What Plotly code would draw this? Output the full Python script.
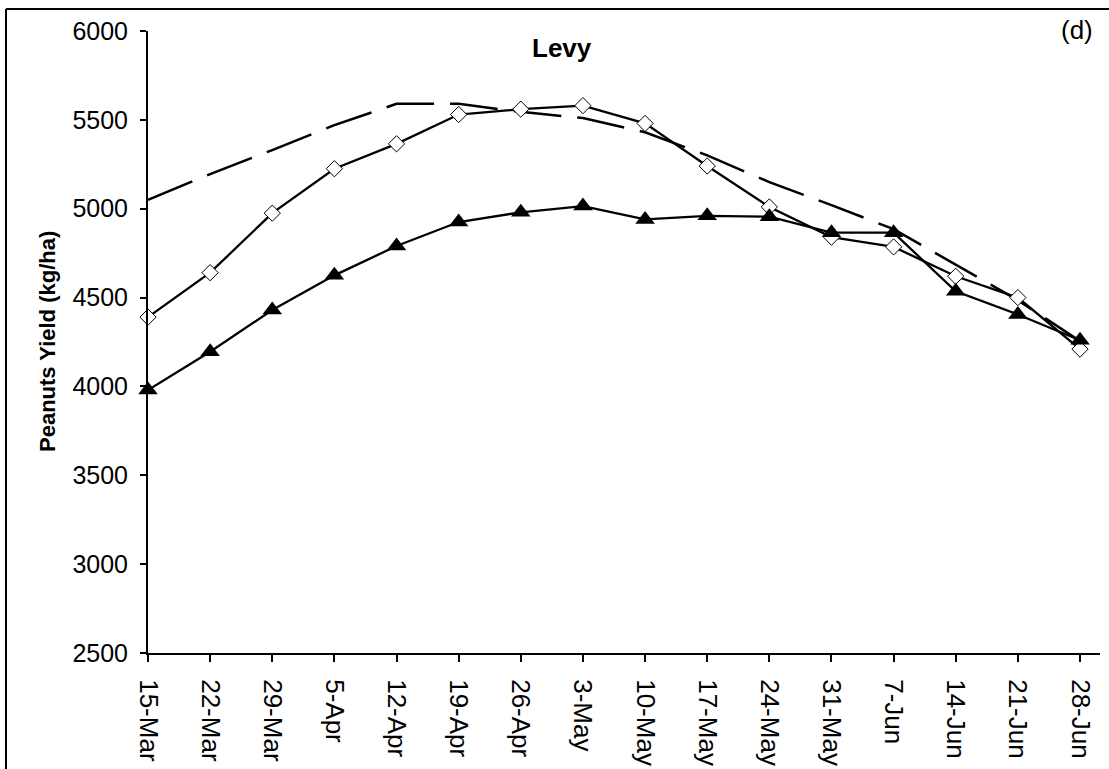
import plotly.graph_objects as go

dates = ["15-Mar", "22-Mar", "29-Mar", "5-Apr", "12-Apr", "19-Apr", "26-Apr", "3-May",
         "10-May", "17-May", "24-May", "31-May", "7-Jun", "14-Jun", "21-Jun", "28-Jun"]
potential = [5050, 5195, 5330, 5470, 5590, 5590, 5545, 5510, 5430, 5300, 5150, 5020, 4885, 4685, 4485, 4255]
diamond_vals = [4390, 4640, 4975, 5225, 5365, 5530, 5560, 5580, 5480, 5240, 5010, 4840, 4785, 4620, 4500, 4210]
triangle_vals = [3980, 4195, 4430, 4625, 4790, 4925, 4980, 5015, 4940, 4960, 4955, 4865, 4865, 4535, 4405, 4260]
y_ticks = [2500, 3000, 3500, 4000, 4500, 5000, 5500, 6000]

W, H = 1109, 769
L, R, T, B = 148, 1100, 31, 653
pw, ph = R - L, B - T
idx = list(range(len(dates)))
unit = (1080 - 148) / 15.0
xmax = pw / unit


def px(x):
    return (x - L) / pw


def py(y):
    return 1 - (y - T) / ph


font = "Liberation Sans, Arial, sans-serif"

fig = go.Figure()
fig.add_trace(go.Scatter(x=idx, y=potential, mode="lines",
                         line=dict(color="black", width=2.5, dash="48px,16px"),
                         cliponaxis=False, showlegend=False, hoverinfo="skip"))
fig.add_trace(go.Scatter(x=idx, y=diamond_vals, mode="lines+markers",
                         line=dict(color="black", width=2.3),
                         marker=dict(symbol="diamond", size=12.5, color="white",
                                     line=dict(color="black", width=1)),
                         cliponaxis=False, showlegend=False))
fig.add_trace(go.Scatter(x=idx, y=triangle_vals, mode="lines+markers",
                         line=dict(color="black", width=2.3),
                         marker=dict(symbol="triangle-up", size=17, color="black",
                                     line=dict(color="black", width=0)),
                         cliponaxis=False, showlegend=False))

fig.update_layout(
    width=W, height=H,
    margin=dict(l=L, r=W - R, t=T, b=H - B, pad=0, autoexpand=False),
    paper_bgcolor="white", plot_bgcolor="white",
    font=dict(family=font, color="black"),
    xaxis=dict(range=[0, xmax], tickmode="array", tickvals=idx, ticktext=dates,
               tickangle=90, ticks="outside", ticklen=7, tickwidth=2, tickcolor="black",
               ticklabelstandoff=12, automargin=False,
               showline=True, linecolor="black", linewidth=2, showgrid=False,
               zeroline=False, tickfont=dict(size=26, family=font, color="black")),
    yaxis=dict(range=[2500, 6000], tickmode="array", tickvals=y_ticks,
               ticks="outside", ticklen=6, tickwidth=2, tickcolor="black",
               ticklabelstandoff=7, automargin=False,
               showline=True, linecolor="black", linewidth=2, showgrid=False,
               zeroline=False, tickfont=dict(size=25, family=font, color="black")),
    annotations=[
        dict(text="<b>Levy</b>", x=px(562), y=py(48), xref="paper", yref="paper",
             xanchor="center", yanchor="middle", showarrow=False,
             font=dict(size=26, family=font, color="black")),
        dict(text="(d)", x=px(1077), y=py(30), xref="paper", yref="paper",
             xanchor="center", yanchor="middle", showarrow=False,
             font=dict(size=26, family=font, color="black")),
        dict(text="<b>Peanuts Yield (kg/ha)</b>", x=px(47), y=py(342), xref="paper",
             yref="paper", xanchor="center", yanchor="middle", textangle=-90,
             showarrow=False, font=dict(size=22, family=font, color="black")),
    ],
    shapes=[
        dict(type="line", xref="paper", yref="paper", x0=px(6), y0=py(9), x1=px(1109), y1=py(9),
             line=dict(color="black", width=2)),
        dict(type="line", xref="paper", yref="paper", x0=px(6), y0=py(9), x1=px(6), y1=py(769),
             line=dict(color="black", width=2)),
    ],
)

fig.write_html("out.html", config={"displayModeBar": False},
               post_script="document.body.style.margin='0';document.body.style.padding='0';")
